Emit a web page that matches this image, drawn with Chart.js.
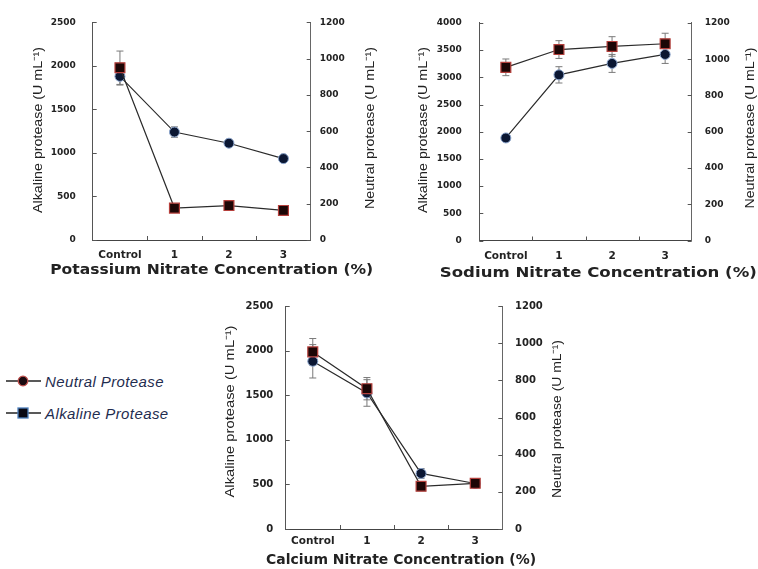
<!DOCTYPE html>
<html>
<head>
<meta charset="utf-8">
<title>Nitrate concentration vs protease</title>
<script src="https://cdn.jsdelivr.net/npm/chart.js@4.4.0/dist/chart.umd.min.js"></script>
<style>
    body {
        margin: 0;
        width: 758px;
        height: 569px;
        background: #fff;
        position: relative;
        overflow: hidden;
    }
    .panel {
        position: absolute;
    }
    .legend-row {
        position: absolute;
        left: 5px;
        height: 16px;
        display: flex;
        align-items: center;
        font-family: "Liberation Sans", Arial, sans-serif;
        font-style: italic;
        font-size: 15px;
        letter-spacing: 0.4px;
        color: #1f2d50;
    }
    .legend-row svg {
        margin-right: 3px;
    }
</style>
</head>
<body>
<canvas id="potassiumChart" class="panel" style="left:0;top:0" width="380" height="285"></canvas>
<canvas id="sodiumChart" class="panel" style="left:380px;top:0" width="378" height="285"></canvas>
<canvas id="calciumChart" class="panel" style="left:180px;top:285px" width="400" height="284"></canvas>
<div id="legend"></div>

<script>
// Categories and tick labels
const categories = ["Control", "1", "2", "3"];
const ticks2500 = [0, 500, 1000, 1500, 2000, 2500];
const ticks4000 = [0, 500, 1000, 1500, 2000, 2500, 3000, 3500, 4000];
const neutralTicks = [0, 200, 400, 600, 800, 1000, 1200];

// Potassium nitrate
const potassiumAlkaline = [1880, 1240, 1112, 935];
const potassiumAlkalineErr = [100, 60, 30, 30];
const potassiumNeutral = [950, 176, 190, 163];
const potassiumNeutralErr = [92, 12, 10, 10];

// Sodium nitrate
const sodiumAlkaline = [1885, 3045, 3255, 3420];
const sodiumAlkalineErr = [40, 150, 165, 165];
const sodiumNeutral = [955, 1053, 1070, 1085];
const sodiumNeutralErr = [46, 49, 54, 58];

// Calcium nitrate
const calciumAlkaline = [1880, 1525, 623, 510];
const calciumAlkalineErr = [187, 149, 55, 20];
const calciumNeutral = [953, 755, 230, 246];
const calciumNeutralErr = [72, 60, 8, 8];

// Legend (as printed next to the bottom chart)
const legendItems = [
    { label: "Neutral Protease", marker: "circle", fill: "#1a0a10", stroke: "#c0504d" },
    { label: "Alkaline Protease", marker: "square", fill: "#0a0a14", stroke: "#4f81bd" },
];

// Error bars drawn under the markers
const errorBars = {
    id: "errorBars",
    beforeDatasetsDraw(chart) {
        const ctx = chart.ctx;
        chart.data.datasets.forEach((ds, i) => {
            const meta = chart.getDatasetMeta(i);
            const yScale = chart.scales[ds.yAxisID];
            ctx.save();
            ctx.strokeStyle = "#7a7a7a";
            ctx.lineWidth = 1;
            ctx.beginPath();
            meta.data.forEach((pt, j) => {
                const top = yScale.getPixelForValue(ds.data[j] + ds.errors[j]);
                const bottom = yScale.getPixelForValue(ds.data[j] - ds.errors[j]);
                ctx.moveTo(pt.x, top);
                ctx.lineTo(pt.x, bottom);
                ctx.moveTo(pt.x - 3.5, top);
                ctx.lineTo(pt.x + 3.5, top);
                ctx.moveTo(pt.x - 3.5, bottom);
                ctx.lineTo(pt.x + 3.5, bottom);
            });
            ctx.stroke();
            ctx.restore();
        });
    },
};

// Small tick marks pointing into the plot
const innerTicks = {
    id: "innerTicks",
    afterDraw(chart) {
        const { ctx, chartArea: a, scales } = chart;
        ctx.save();
        ctx.strokeStyle = "#555";
        ctx.lineWidth = 1;
        ctx.beginPath();
        scales.y.ticks.forEach((t) => {
            const y = Math.round(scales.y.getPixelForValue(t.value)) + 0.5;
            ctx.moveTo(a.left, y);
            ctx.lineTo(a.left + 4, y);
        });
        scales.y1.ticks.forEach((t) => {
            const y = Math.round(scales.y1.getPixelForValue(t.value)) + 0.5;
            ctx.moveTo(a.right - 4, y);
            ctx.lineTo(a.right, y);
        });
        for (let i = 0; i < categories.length - 1; i++) {
            const x = Math.round((scales.x.getPixelForValue(i) + scales.x.getPixelForValue(i + 1)) / 2) + 0.5;
            ctx.moveTo(x, a.bottom);
            ctx.lineTo(x, a.bottom - 4);
        }
        ctx.stroke();
        ctx.restore();
    },
};

// Axis titles, stretched to the width they have in the figure
const axisTitles = {
    id: "axisTitles",
    afterDraw(chart, args, opts) {
        const ctx = chart.ctx;
        opts.items.forEach((t) => {
            ctx.save();
            ctx.font = t.font;
            ctx.fillStyle = "#222";
            ctx.textAlign = "center";
            ctx.textBaseline = "middle";
            ctx.translate(t.x, t.y);
            if (t.rotate) ctx.rotate(-Math.PI / 2);
            ctx.scale(t.length / ctx.measureText(t.text).width, 1);
            ctx.fillText(t.text, 0, 0);
            ctx.restore();
        });
    },
};

const tickFont = { family: "DejaVu Sans", weight: "bold", size: 9 };
const catFont = { family: "DejaVu Sans", weight: "bold", size: 10.5 };
const sideFont = '13px "Liberation Sans", Arial, sans-serif';
const bottomFont = 'bold 14px "DejaVu Sans", sans-serif';

function makeChart(id, alkaline, alkalineErr, neutral, neutralErr, leftTicks, box, titles) {
    const ctx = document.getElementById(id).getContext("2d");
    return new Chart(ctx, {
        type: "line",
        data: {
            labels: categories,
            datasets: [
                {
                    label: "Neutral protease",
                    data: neutral,
                    errors: neutralErr,
                    yAxisID: "y1",
                    borderColor: "#2b2b2b",
                    borderWidth: 1.2,
                    pointStyle: "rect",
                    pointRadius: 7,
                    pointBackgroundColor: "#1c0606",
                    pointBorderColor: "#b5403c",
                    pointBorderWidth: 1.2,
                    tension: 0,
                },
                {
                    label: "Alkaline protease",
                    data: alkaline,
                    errors: alkalineErr,
                    yAxisID: "y",
                    borderColor: "#2b2b2b",
                    borderWidth: 1.2,
                    pointStyle: "circle",
                    pointRadius: 5,
                    pointBackgroundColor: "#0b1733",
                    pointBorderColor: "#8aa4cc",
                    pointBorderWidth: 1,
                    tension: 0,
                },
            ],
        },
        options: {
            responsive: false,
            animation: false,
            layout: { padding: { top: box.top, left: 0, right: 0, bottom: 0 } },
            plugins: {
                legend: { display: false },
                tooltip: { enabled: false },
                axisTitles: { items: titles },
            },
            scales: {
                x: {
                    type: "category",
                    offset: true,
                    grid: { drawOnChartArea: false, drawTicks: false },
                    border: { color: "#444", width: 1 },
                    ticks: { font: catFont, color: "#222", padding: box.catPad },
                    afterFit: (s) => { s.height = box.xHeight; },
                },
                y: {
                    position: "left",
                    min: leftTicks[0],
                    max: leftTicks[leftTicks.length - 1],
                    afterBuildTicks: (s) => { s.ticks = leftTicks.map((v) => ({ value: v })); },
                    grid: { drawOnChartArea: false, drawTicks: false },
                    border: { color: "#555", width: 1 },
                    ticks: { font: box.yFont || tickFont, color: "#222", padding: box.padL, callback: (v) => String(v) },
                    afterFit: (s) => { s.width = box.left; },
                },
                y1: {
                    position: "right",
                    min: neutralTicks[0],
                    max: neutralTicks[neutralTicks.length - 1],
                    afterBuildTicks: (s) => { s.ticks = neutralTicks.map((v) => ({ value: v })); },
                    grid: { drawOnChartArea: false, drawTicks: false },
                    border: { color: "#666", width: 1 },
                    ticks: { font: box.yFont || tickFont, color: "#222", padding: box.padR, callback: (v) => String(v) },
                    afterFit: (s) => { s.width = box.right; },
                },
            },
        },
        plugins: [errorBars, innerTicks, axisTitles],
    });
}

// Build legend
function loadLegend() {
    const container = document.getElementById("legend");
    container.innerHTML = legendItems
        .map((item, i) => {
            const marker =
                item.marker === "circle"
                    ? `<circle cx="18" cy="8" r="4.8" fill="${item.fill}" stroke="${item.stroke}" stroke-width="1.3"/>`
                    : `<rect x="13" y="3" width="10" height="10" fill="${item.fill}" stroke="${item.stroke}" stroke-width="1.3"/>`;
            return `
            <div class="legend-row" style="top:${373 + i * 32}px">
                <svg width="37" height="16"><line x1="1" y1="8" x2="36" y2="8" stroke="#222" stroke-width="1.3"/>${marker}</svg>
                <span>${item.label}</span>
            </div>`;
        })
        .join("");
}

document.addEventListener("DOMContentLoaded", () => {
    makeChart("potassiumChart", potassiumAlkaline, potassiumAlkalineErr, potassiumNeutral, potassiumNeutralErr, ticks2500,
        { top: 18, left: 92.7, right: 69.3, xHeight: 45, padL: 17, padR: 9, catPad: 8.5 },
        [
            { text: "Alkaline protease (U mL⁻¹)", x: 38.5, y: 130, length: 166, rotate: true, font: sideFont },
            { text: "Neutral protease (U mL⁻¹)", x: 370, y: 128, length: 162, rotate: true, font: sideFont },
            { text: "Potassium Nitrate Concentration (%)", x: 211.7, y: 270, length: 323, font: bottomFont },
        ]);

    makeChart("sodiumChart", sodiumAlkaline, sodiumAlkalineErr, sodiumNeutral, sodiumNeutralErr, ticks4000,
        { top: 18.5, left: 99.3, right: 66.3, xHeight: 44.5, padL: 17.5, padR: 13, catPad: 9 },
        [
            { text: "Alkaline protease (U mL⁻¹)", x: 43.3, y: 130, length: 166, rotate: true, font: sideFont },
            { text: "Neutral protease (U mL⁻¹)", x: 370, y: 128, length: 161, rotate: true, font: sideFont },
            { text: "Sodium Nitrate Concentration (%)", x: 218.3, y: 273, length: 317, font: bottomFont },
        ]);

    makeChart("calciumChart", calciumAlkaline, calciumAlkalineErr, calciumNeutral, calciumNeutralErr, ticks2500,
        { top: 21, left: 105.7, right: 77.7, xHeight: 40, padL: 12.4, padR: 12.7, catPad: 6.4,
          yFont: { family: "DejaVu Sans", weight: "bold", size: 10 } },
        [
            { text: "Alkaline protease (U mL⁻¹)", x: 50.5, y: 126.5, length: 172, rotate: true, font: sideFont },
            { text: "Neutral protease (U mL⁻¹)", x: 377, y: 134, length: 158, rotate: true, font: sideFont },
            { text: "Calcium Nitrate Concentration (%)", x: 221, y: 275, length: 270, font: bottomFont },
        ]);

    loadLegend();
});
</script>
</body>
</html>
